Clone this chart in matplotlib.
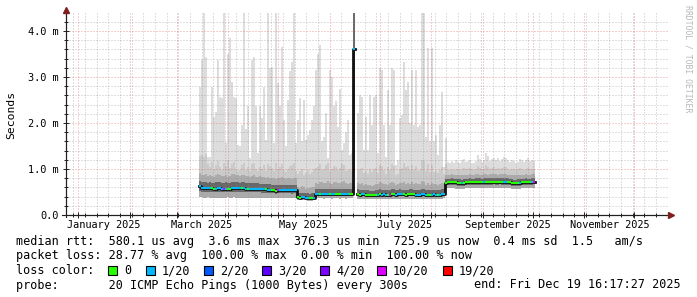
import datetime as dt
import numpy as np
import matplotlib
matplotlib.use("Agg")
import matplotlib.pyplot as plt
import matplotlib.dates as mdates
import matplotlib.transforms as mtransforms
from matplotlib.collections import LineCollection
from matplotlib.patches import Rectangle

nan = np.nan

# one smokeping bucket every 28.8 h, first bucket starts here
bucket_start = dt.datetime(2025, 3, 14, 12)
bucket_step = dt.timedelta(hours=28.8)

# rtt values in ms, per bucket
rtt_max = [
    2.79, 3.37, 4.4, 3.44, 1.27, 1.27, 2.79, 2.14, 2.25, 3.37,
    2.57, 2.54, 4.4, 1.56, 3.51, 3.84, 2.9, 2.57, 2.54, 1.52,
    1.49, 1.96, 4.4, 1.88, 2.36, 1.23, 3.37, 3.44, 2.36, 1.34,
    2.36, 2.1, 2.79, 1.63, 4.4, 3.19, 3.22, 1.56, 4.4, 2.86,
    2.36, 3.66, 2.07, 1.49, 2.5, 3.12, 3.33, 4.4, 1.56, 2.07,
    2.54, 1.6, 2.5, 1.63, 1.74, 1.85, 2.07, 2.36, 3.15, 3.51,
    3.69, 1.6, 1.7, 2.21, 1.23, 3.15, 3.0, 2.36, 2.47, 1.92,
    2.75, 1.41, 1.56, 1.81, 2.07, 1.3, 1.34,
    4.5, nan,
    2.21, 2.61, 2.57, 1.41, 2.14, 1.41, 2.61, 1.96, 2.57, 2.61,
    1.34, 3.19, 3.15, 1.96, 1.27, 2.72, 1.96, 3.19, 3.15, 1.09,
    1.2, 2.1, 2.18, 3.33, 2.72, 2.9, 1.99, 3.15, 1.96, 3.15,
    1.92, 1.96, 4.4, 4.4, 1.7, 3.62, 1.6, 3.62, 1.6, 1.74,
    1.3, 1.96, 2.68, 1.05,
    1.67, 1.15, 1.12, 1.18, 1.14, 1.2, 1.16, 1.13, 1.19, 1.22,
    1.15, 1.17, 1.2, 1.14, 1.12, 1.18, 1.3, 1.21, 1.16, 1.2,
    1.34, 1.28, 1.18, 1.22, 1.25, 1.2, 1.23, 1.17, 1.21, 1.26,
    1.24, 1.19, 1.15, 1.2, 1.18, 1.14, 1.16, 1.22, 1.19, 1.15,
    1.2, 1.23, 1.18, 1.2, 1.17,
]

rtt_q95 = [
    1.28, 1.30, 1.26, 1.32, 1.10, 1.05, 1.15, 1.00, 1.08, 1.18,
    1.05, 0.98, 1.12, 1.06, 1.20, 1.02, 1.10, 1.15, 1.00, 0.96,
    0.98, 1.08, 1.14, 0.98, 1.05, 0.95, 1.10, 1.12, 1.00, 0.96,
    1.04, 1.00, 1.08, 0.95, 1.10, 1.06, 1.02, 0.95, 1.12, 1.00,
    1.04, 1.10, 0.98, 0.94, 1.00, 1.06, 1.08, 1.12, 0.96,
    0.90, 0.95, 1.00, 0.88, 0.92, 0.98, 0.90, 0.94, 1.00,
    1.02, 1.05, 1.10, 0.98, 1.00, 1.08, 1.12, 0.96, 1.00, 1.06,
    1.04, 0.98, 1.02, 1.10, 1.08, 0.96, 0.98, 1.00, 0.95,
    4.5, nan,
    0.98, 1.00, 1.02, 0.92, 0.96, 0.90, 1.00, 0.94, 1.00, 1.02,
    0.92, 1.08, 1.06, 0.98, 0.90, 1.04, 0.98, 1.10, 1.06, 0.88,
    0.90, 1.00, 1.02, 1.12, 1.04, 1.06, 0.98, 1.08, 0.98, 1.06,
    0.96, 0.98, 1.20, 1.18, 0.96, 1.10, 0.94, 1.08, 0.94, 0.96,
    0.92, 0.98, 1.04, 0.90,
    1.10, 0.98, 0.97, 1.00, 0.98, 1.01, 0.99, 0.97, 1.00, 1.02,
    0.99, 1.00, 1.02, 0.99, 0.98, 1.00, 1.06, 1.02, 0.99, 1.01,
    1.08, 1.05, 1.00, 1.02, 1.04, 1.01, 1.03, 0.99, 1.02, 1.05,
    1.04, 1.01, 0.98, 1.00, 0.99, 0.97, 0.99, 1.02, 1.00, 0.98,
    1.00, 1.03, 1.00, 1.01, 0.99,
]

rtt_q85 = [
    0.92, 0.88, 0.86, 0.90, 0.84, 0.86, 0.85, 0.83, 0.87, 0.90,
    0.86, 0.84, 0.85, 0.88, 0.83, 0.84, 0.89, 0.90, 0.86, 0.87,
    0.84, 0.86, 0.88, 0.84, 0.85, 0.83, 0.84, 0.86, 0.83, 0.82,
    0.84, 0.82, 0.83, 0.81, 0.82, 0.80, 0.81, 0.80, 0.79, 0.81,
    0.80, 0.82, 0.80, 0.79, 0.81, 0.80, 0.79, 0.81, 0.80,
    0.60, 0.58, 0.62, 0.60, 0.57, 0.59, 0.58, 0.60, 0.61,
    0.70, 0.68, 0.72, 0.71, 0.69, 0.70, 0.73, 0.70, 0.68, 0.71,
    0.72, 0.69, 0.70, 0.71, 0.73, 0.69, 0.68, 0.70, 0.69,
    4.5, nan,
    0.70, 0.68, 0.69, 0.66, 0.67, 0.65, 0.66, 0.64, 0.66, 0.67,
    0.68, 0.71, 0.69, 0.67, 0.68, 0.66, 0.69, 0.71, 0.70, 0.66,
    0.67, 0.69, 0.70, 0.72, 0.68, 0.70, 0.67, 0.71, 0.68, 0.70,
    0.67, 0.68, 0.73, 0.72, 0.66, 0.70, 0.66, 0.69, 0.67, 0.68,
    0.66, 0.67, 0.70, 0.68,
    0.87, 0.88, 0.87, 0.89, 0.88, 0.87, 0.86, 0.87, 0.86, 0.87,
    0.88, 0.88, 0.89, 0.88, 0.87, 0.90, 0.89, 0.88, 0.88, 0.90,
    0.89, 0.88, 0.89, 0.89, 0.90, 0.89, 0.88, 0.90, 0.89, 0.89,
    0.89, 0.88, 0.88, 0.87, 0.86, 0.86, 0.87, 0.87, 0.88, 0.88,
    0.89, 0.88, 0.88, 0.89, 0.90,
]

rtt_q75 = [
    0.74, 0.72, 0.71, 0.72, 0.70, 0.71, 0.70, 0.70, 0.71, 0.72,
    0.71, 0.70, 0.70, 0.71, 0.70, 0.70, 0.72, 0.72, 0.71, 0.71,
    0.70, 0.71, 0.71, 0.70, 0.70, 0.70, 0.69, 0.69, 0.69, 0.69,
    0.68, 0.68, 0.68, 0.67, 0.67, 0.67, 0.66, 0.66, 0.65, 0.66,
    0.66, 0.66, 0.66, 0.65, 0.66, 0.66, 0.65, 0.66, 0.66,
    0.48, 0.47, 0.48, 0.48, 0.47, 0.47, 0.46, 0.47, 0.48,
    0.56, 0.56, 0.57, 0.57, 0.56, 0.56, 0.57, 0.57, 0.56, 0.57,
    0.57, 0.56, 0.56, 0.57, 0.57, 0.56, 0.56, 0.56, 0.56,
    4.5, nan,
    0.56, 0.55, 0.55, 0.55, 0.54, 0.54, 0.53, 0.53, 0.53, 0.54,
    0.55, 0.56, 0.55, 0.55, 0.55, 0.54, 0.55, 0.56, 0.56, 0.55,
    0.55, 0.56, 0.55, 0.55, 0.55, 0.55, 0.56, 0.56, 0.55, 0.55,
    0.54, 0.55, 0.56, 0.56, 0.55, 0.55, 0.54, 0.55, 0.55, 0.55,
    0.54, 0.55, 0.56, 0.57,
    0.78, 0.79, 0.79, 0.80, 0.79, 0.79, 0.78, 0.78, 0.77, 0.78,
    0.79, 0.79, 0.80, 0.79, 0.79, 0.80, 0.80, 0.80, 0.79, 0.80,
    0.80, 0.80, 0.80, 0.80, 0.81, 0.80, 0.80, 0.81, 0.80, 0.80,
    0.80, 0.80, 0.79, 0.78, 0.77, 0.77, 0.78, 0.78, 0.79, 0.79,
    0.80, 0.79, 0.79, 0.80, 0.81,
]

rtt_med = [
    0.62, 0.59, 0.585, 0.585, 0.58, 0.58, 0.58, 0.575, 0.575, 0.58,
    0.58, 0.575, 0.57, 0.575, 0.575, 0.57, 0.58, 0.585, 0.585, 0.58,
    0.58, 0.585, 0.58, 0.575, 0.575, 0.575, 0.57, 0.57, 0.57, 0.565,
    0.565, 0.56, 0.56, 0.555, 0.55, 0.55, 0.545, 0.54, 0.53, 0.54,
    0.545, 0.545, 0.54, 0.54, 0.54, 0.54, 0.535, 0.54, 0.54,
    0.385, 0.38, 0.385, 0.385, 0.38, 0.375, 0.37, 0.375, 0.38,
    0.45, 0.455, 0.46, 0.46, 0.455, 0.455, 0.46, 0.46, 0.455, 0.46,
    0.46, 0.455, 0.455, 0.46, 0.46, 0.455, 0.45, 0.455, 0.45,
    3.6, nan,
    0.45, 0.445, 0.45, 0.45, 0.445, 0.44, 0.435, 0.43, 0.435, 0.44,
    0.445, 0.45, 0.445, 0.45, 0.445, 0.44, 0.445, 0.45, 0.45, 0.445,
    0.45, 0.455, 0.45, 0.45, 0.445, 0.45, 0.45, 0.455, 0.45, 0.445,
    0.44, 0.445, 0.45, 0.45, 0.445, 0.445, 0.44, 0.445, 0.45, 0.445,
    0.44, 0.445, 0.45, 0.46,
    0.70, 0.71, 0.71, 0.715, 0.71, 0.71, 0.70, 0.695, 0.69, 0.70,
    0.71, 0.71, 0.715, 0.71, 0.71, 0.715, 0.72, 0.715, 0.71, 0.715,
    0.72, 0.72, 0.715, 0.72, 0.725, 0.72, 0.72, 0.725, 0.72, 0.715,
    0.72, 0.715, 0.71, 0.70, 0.69, 0.685, 0.695, 0.70, 0.71, 0.71,
    0.715, 0.71, 0.71, 0.715, 0.725,
]

rtt_q25 = [
    0.52, 0.51, 0.51, 0.51, 0.50, 0.50, 0.50, 0.50, 0.50, 0.51,
    0.50, 0.50, 0.49, 0.50, 0.50, 0.50, 0.51, 0.51, 0.51, 0.50,
    0.50, 0.51, 0.50, 0.50, 0.50, 0.50, 0.49, 0.49, 0.49, 0.49,
    0.49, 0.48, 0.48, 0.48, 0.48, 0.48, 0.47, 0.47, 0.46, 0.47,
    0.47, 0.47, 0.47, 0.47, 0.47, 0.47, 0.46, 0.47, 0.47,
    0.35, 0.35, 0.35, 0.35, 0.35, 0.34, 0.34, 0.34, 0.35,
    0.41, 0.41, 0.42, 0.42, 0.41, 0.41, 0.42, 0.42, 0.41, 0.42,
    0.42, 0.41, 0.41, 0.42, 0.42, 0.41, 0.41, 0.41, 0.41,
    0.9, nan,
    0.41, 0.40, 0.41, 0.41, 0.40, 0.40, 0.39, 0.39, 0.39, 0.40,
    0.40, 0.41, 0.40, 0.41, 0.40, 0.40, 0.40, 0.41, 0.41, 0.40,
    0.41, 0.41, 0.41, 0.41, 0.40, 0.41, 0.41, 0.41, 0.41, 0.40,
    0.40, 0.40, 0.41, 0.41, 0.40, 0.40, 0.40, 0.40, 0.41, 0.40,
    0.40, 0.40, 0.41, 0.42,
    0.64, 0.65, 0.65, 0.66, 0.65, 0.65, 0.64, 0.64, 0.63, 0.64,
    0.65, 0.65, 0.66, 0.65, 0.65, 0.66, 0.66, 0.66, 0.65, 0.66,
    0.66, 0.66, 0.66, 0.66, 0.67, 0.66, 0.66, 0.67, 0.66, 0.66,
    0.66, 0.66, 0.65, 0.64, 0.63, 0.63, 0.64, 0.64, 0.65, 0.65,
    0.66, 0.65, 0.65, 0.66, 0.67,
]

rtt_min = [
    0.40, 0.39, 0.38, 0.38, 0.39, 0.38, 0.38, 0.37, 0.38, 0.38,
    0.38, 0.37, 0.38, 0.38, 0.39, 0.38, 0.38, 0.39, 0.38, 0.38,
    0.38, 0.38, 0.37, 0.38, 0.38, 0.38, 0.37, 0.38, 0.38, 0.37,
    0.37, 0.38, 0.37, 0.37, 0.37, 0.36, 0.37, 0.36, 0.36, 0.37,
    0.36, 0.36, 0.37, 0.36, 0.36, 0.36, 0.36, 0.36, 0.36,
    0.33, 0.32, 0.32, 0.32, 0.32, 0.31, 0.31, 0.31, 0.32,
    0.36, 0.36, 0.36, 0.36, 0.35, 0.36, 0.36, 0.36, 0.35, 0.36,
    0.36, 0.36, 0.35, 0.36, 0.36, 0.35, 0.36, 0.36, 0.36,
    0.45, nan,
    0.35, 0.35, 0.35, 0.35, 0.34, 0.34, 0.34, 0.34, 0.34, 0.35,
    0.35, 0.35, 0.34, 0.35, 0.35, 0.34, 0.34, 0.35, 0.35, 0.35,
    0.35, 0.35, 0.35, 0.34, 0.35, 0.35, 0.35, 0.35, 0.35, 0.34,
    0.34, 0.34, 0.35, 0.35, 0.35, 0.34, 0.34, 0.35, 0.35, 0.35,
    0.34, 0.35, 0.35, 0.36,
    0.57, 0.58, 0.58, 0.58, 0.58, 0.57, 0.57, 0.57, 0.56, 0.57,
    0.58, 0.58, 0.58, 0.58, 0.58, 0.58, 0.59, 0.58, 0.58, 0.58,
    0.59, 0.59, 0.58, 0.59, 0.59, 0.59, 0.59, 0.59, 0.59, 0.58,
    0.59, 0.58, 0.58, 0.57, 0.56, 0.56, 0.57, 0.57, 0.58, 0.58,
    0.58, 0.58, 0.58, 0.58, 0.59,
]

# lost pings (of 20) per bucket
loss = [
    1, 1, 1, 1, 1, 1, 0, 0, 1, 1,
    1, 1, 10, 1, 0, 0, 1, 1, 1, 1,
    1, 0, 1, 1, 0, 1, 1, 1, 1, 1,
    1, 1, 1, 0, 1, 1, 0, 0, 0, 10,
    1, 1, 1, 1, 1, 1, 1, 1, 1,
    0, 0, 1, 1, 1, 1, 0, 0, 1,
    1, 1, 0, 1, 1, 1, 1, 0, 1, 1,
    0, 0, 0, 1, 1, 1, 1, 0, 0,
    1, 0,
    0, 0, 1, 1, 0, 0, 0, 0, 0, 0,
    1, 0, 1, 1, 1, 0, 10, 0, 0, 1,
    1, 1, 1, 0, 0, 0, 0, 0, 0, 1,
    1, 1, 1, 1, 1, 0, 0, 1, 1, 1,
    0, 1, 1, 1,
    0, 0, 0, 0, 0, 0, 0, 0, 1, 0,
    0, 0, 0, 0, 0, 0, 0, 0, 0, 1,
    0, 0, 0, 0, 0, 0, 0, 0, 0, 1,
    1, 0, 0, 0, 0, 0, 0, 1, 0, 0,
    0, 0, 0, 1, 10,
]

loss_levels = [0, 1, 2, 3, 4, 10, 19]
loss_labels = ["0", "1/20", "2/20", "3/20", "4/20", "10/20", "19/20"]
loss_colors = ["#26ff00", "#00b8ff", "#0059ff", "#5e00ff", "#7e00ff", "#dd00ff", "#ff0000"]

label_months = [1, 3, 5, 7, 9, 11]
label_texts = ["January 2025", "March 2025", "May 2025", "July 2025",
               "September 2025", "November 2025"]
y_ticks = [0, 1, 2, 3, 4]
y_labels = ["0.0", "1.0 m", "2.0 m", "3.0 m", "4.0 m"]

legend_rtt = "median rtt:  580.1 us avg  3.6 ms max  376.3 us min  725.9 us now  0.4 ms sd  1.5   am/s"
legend_loss = "packet loss: 28.77 % avg  100.00 % max  0.00 % min  100.00 % now"
legend_probe = "probe:       20 ICMP Echo Pings (1000 Bytes) every 300s"
legend_end = "end: Fri Dec 19 16:17:27 2025"

mono = "DejaVu Sans Mono"
plt.rcParams["font.family"] = mono

W, H = 697, 297
fig = plt.figure(figsize=(W / 100, H / 100), dpi=100)
fig.patch.set_facecolor("white")
ax = fig.add_axes([66 / W, 82 / H, 602 / W, 202 / H])

n = len(rtt_med)
edges = mdates.date2num([bucket_start + k * bucket_step for k in range(n + 1)])
# each bucket becomes a flat piece from its start edge to its end edge
step_x = np.column_stack([edges[:-1], edges[1:]]).ravel()


def stepped(vals):
    return np.repeat(np.array(vals, dtype=float), 2)


def band(lo, hi, color):
    ax.fill_between(step_x, stepped(lo), stepped(hi), color=color, lw=0,
                    zorder=1)


band(rtt_min, rtt_max, "#dddddd")
band(rtt_min, rtt_q95, "#cacaca")
band(rtt_min, rtt_q85, "#ababab")
band(rtt_q25, rtt_q75, "#686868")

# median: dark step line, loss coloured on top
ax.plot(step_x, stepped(rtt_med), color="#111111", lw=2.0, zorder=3)


def loss_color(k):
    c = loss_colors[0]
    for lvl, col in zip(loss_levels, loss_colors):
        if k >= lvl:
            c = col
    return c


segs, cols = [], []
for i, m in enumerate(rtt_med):
    if np.isnan(m):
        continue
    segs.append([(edges[i], m), (edges[i + 1], m)])
    cols.append(loss_color(loss[i]))
ax.add_collection(LineCollection(segs, colors=cols, lw=1.5, zorder=4,
                                 capstyle="butt"))

ax.set_xlim(dt.datetime(2024, 12, 24, 14), dt.datetime(2025, 12, 21, 6))
ax.set_ylim(0, 202 / 46)

# grid
ax.xaxis.set_major_locator(mdates.MonthLocator())
ax.xaxis.set_minor_locator(mdates.WeekdayLocator(byweekday=mdates.SU))
ax.set_yticks(y_ticks)
ax.set_yticklabels(y_labels)
ax.set_yticks(np.arange(0.2, 4.4, 0.2), minor=True)
ax.set_axisbelow(False)
ax.grid(which="minor", color="#8f8f8f", alpha=0.55, lw=0.72,
        linestyle=(0, (1, 2)))
ax.grid(which="major", color="#de5050", alpha=0.55, lw=0.72,
        linestyle=(0, (1, 2)))
ax.xaxis.set_major_formatter(matplotlib.ticker.NullFormatter())

ax.tick_params(axis="both", which="both", direction="inout", color="#1f1f1f",
               width=0.7)
ax.tick_params(axis="both", which="major", length=4)
ax.tick_params(axis="both", which="minor", length=3)
ax.tick_params(axis="y", labelsize=7.4, pad=3)

for s in ["top", "right"]:
    ax.spines[s].set_visible(False)
for s in ["left", "bottom"]:
    ax.spines[s].set_color("#1f1f1f")
    ax.spines[s].set_linewidth(0.8)
    ax.spines[s].set_zorder(5)

# axis arrows
arrow_col = "#801f1f"
ax.plot([1 + 3 / 602], [0], marker=">", ms=4, color=arrow_col,
        transform=ax.transAxes, clip_on=False, zorder=6)
ax.plot([-4 / 602, 1 + 1 / 602], [0, 0], color="#1f1f1f", lw=0.8,
        transform=ax.transAxes, clip_on=False, zorder=5)
ax.plot([0], [1 + 3 / 202], marker="^", ms=4, color=arrow_col,
        transform=ax.transAxes, clip_on=False, zorder=6)
ax.plot([0, 0], [-2 / 202, 1 + 1 / 202], color="#1f1f1f", lw=0.8,
        transform=ax.transAxes, clip_on=False, zorder=5)

# month labels centred in mid-month
trans = mtransforms.blended_transform_factory(ax.transData, ax.transAxes)
for m, txt in zip(label_months, label_texts):
    ax.text(dt.datetime(2025, m, 16), -0.025, txt, transform=trans,
            ha="center", va="top", fontsize=7.4)

fig.text(11 / W, 1 - 114.5 / H, "Seconds", rotation=90, ha="center",
         va="center", fontsize=8.2)

fig.text(688 / W, 1 - 5 / H, "RRDTOOL / TOBI OETIKER", rotation=270,
         ha="center", va="top", fontsize=5.9, color="#b8b8b8")

# legend
fs = 8.5
fig.text(16 / W, 1 - 241.5 / H, legend_rtt, va="center", fontsize=fs)
fig.text(16 / W, 1 - 256 / H, legend_loss, va="center", fontsize=fs)
fig.text(16 / W, 1 - 270.5 / H, "loss color:", va="center", fontsize=fs)
box_x = [108, 146, 204, 262, 320, 377, 443]
for bx, lab, col in zip(box_x, loss_labels, loss_colors):
    fig.add_artist(Rectangle((bx / W, 1 - 275 / H), 9 / W, 9 / H,
                             transform=fig.transFigure, facecolor=col,
                             edgecolor="black", lw=0.8))
    fig.text((bx + 16) / W, 1 - 270.5 / H, lab, va="center", fontsize=fs)
fig.text(16 / W, 1 - 285 / H, legend_probe, va="center", fontsize=fs)
fig.text(681 / W, 1 - 285 / H, legend_end, va="center", ha="right", fontsize=fs)

fig.savefig("out.png", dpi=100)
